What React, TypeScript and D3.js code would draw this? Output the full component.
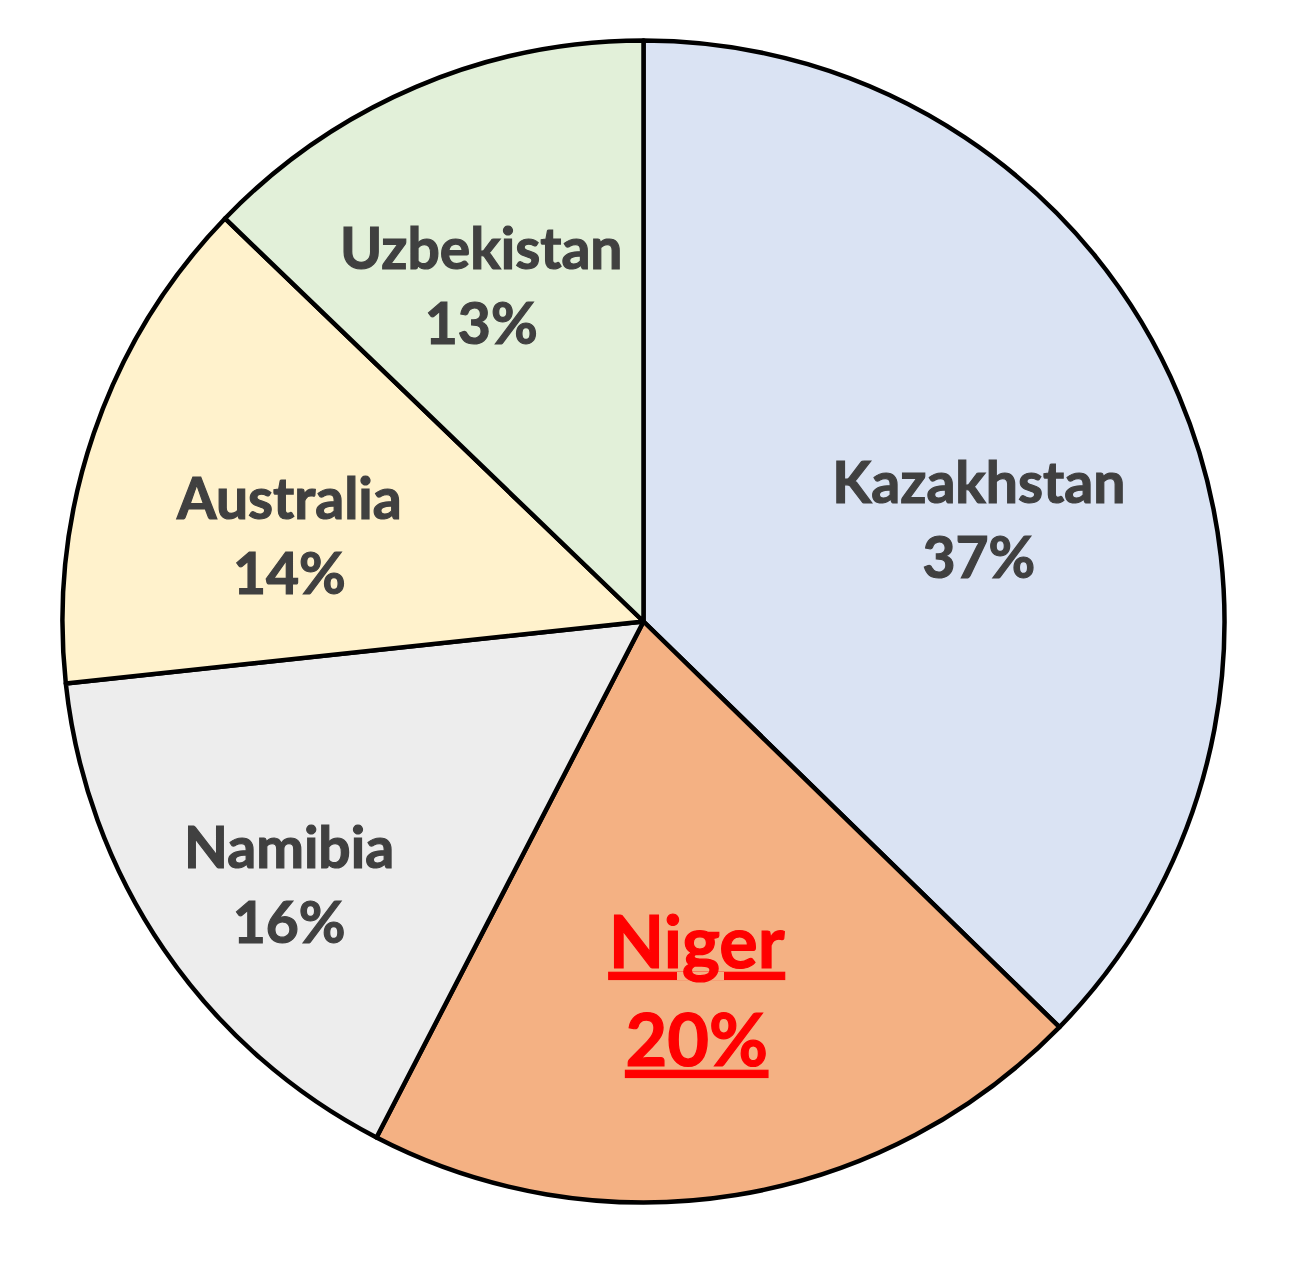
import React, { useEffect, useRef } from 'react'
import * as d3 from 'd3'

// uranium production share by country
const countries = ['Kazakhstan', 'Niger', 'Namibia', 'Australia', 'Uzbekistan']
const shares = [37.3, 20.3, 15.7, 13.9, 12.8]

const fills = ['#DAE3F3', '#F4B183', '#EDEDED', '#FFF2CC', '#E2F0D9']
// where Excel put the labels: radius factor and a small nudge off the centroid
const labelRadius = [0.617, 0.617, 0.76, 0.617, 0.617]
const labelNudge: [number, number][] = [[5, 38], [-4, 16], [10, 14], [-15, 31], [-22, -6]]
const highlight = 'Niger'

interface Slice {
  country: string
  share: number
}

const App: React.FC = () => {
  const svgRef = useRef<SVGSVGElement | null>(null)

  useEffect(() => {
    document.body.style.margin = '0'
    if (!svgRef.current) {
      return
    }

    const width = 1300
    const height = 1277
    const cx = 643.5
    const cy = 621.5
    const radius = 581

    const svg = d3.select(svgRef.current)
    svg.attr('viewBox', `0 0 ${width} ${height}`)
    svg.selectAll('*').remove()

    svg.append('rect').attr('width', width).attr('height', height).attr('fill', '#ffffff')

    const data: Slice[] = countries.map((country, i) => ({ country, share: shares[i] }))
    const pie = d3
      .pie<Slice>()
      .sort(null)
      .value((d) => d.share)
    const arcs = pie(data)

    const arc = d3.arc<d3.PieArcDatum<Slice>>().innerRadius(0).outerRadius(radius)

    const g = svg.append('g').attr('transform', `translate(${cx},${cy})`)

    g.selectAll('path')
      .data(arcs)
      .enter()
      .append('path')
      .attr('d', arc)
      .attr('fill', (_, i) => fills[i])
      .attr('stroke', '#000000')
      .attr('stroke-width', 4.5)
      .attr('stroke-linejoin', 'round')

    const total = d3.sum(shares)

    arcs.forEach((a, i) => {
      const r = radius * labelRadius[i]
      const [px, py] = d3.arc<d3.PieArcDatum<Slice>>().innerRadius(r).outerRadius(r).centroid(a)
      const x = px + labelNudge[i][0]
      const y = py + labelNudge[i][1]
      const isHot = a.data.country === highlight
      const fontSize = isHot ? 72 : 57
      const gap = isHot ? 98 : 75
      const colour = isHot ? '#FF0000' : '#404040'
      const label = g
        .append('text')
        .attr('x', x)
        .attr('y', y)
        .attr('text-anchor', 'middle')
        .attr('font-family', 'Lato, "Open Sans", sans-serif')
        .attr('font-weight', 700)
        .attr('font-size', fontSize)
        .attr('fill', colour)
        .attr('stroke', colour)
        .attr('stroke-width', 1.2)
        .attr('text-decoration', isHot ? 'underline' : null)

      label
        .append('tspan')
        .attr('x', x)
        .attr('y', y - gap / 2 + fontSize * 0.36)
        .text(a.data.country)

      label
        .append('tspan')
        .attr('x', x)
        .attr('y', y + gap / 2 + fontSize * 0.36)
        .text(`${Math.round((a.data.share / total) * 100)}%`)
    })
  }, [])

  return (
    <svg
      ref={svgRef}
      width={1300}
      height={1277}
      style={{ display: 'block' }}
      role="img"
      aria-label="Share by country"
    />
  )
}

export default App
